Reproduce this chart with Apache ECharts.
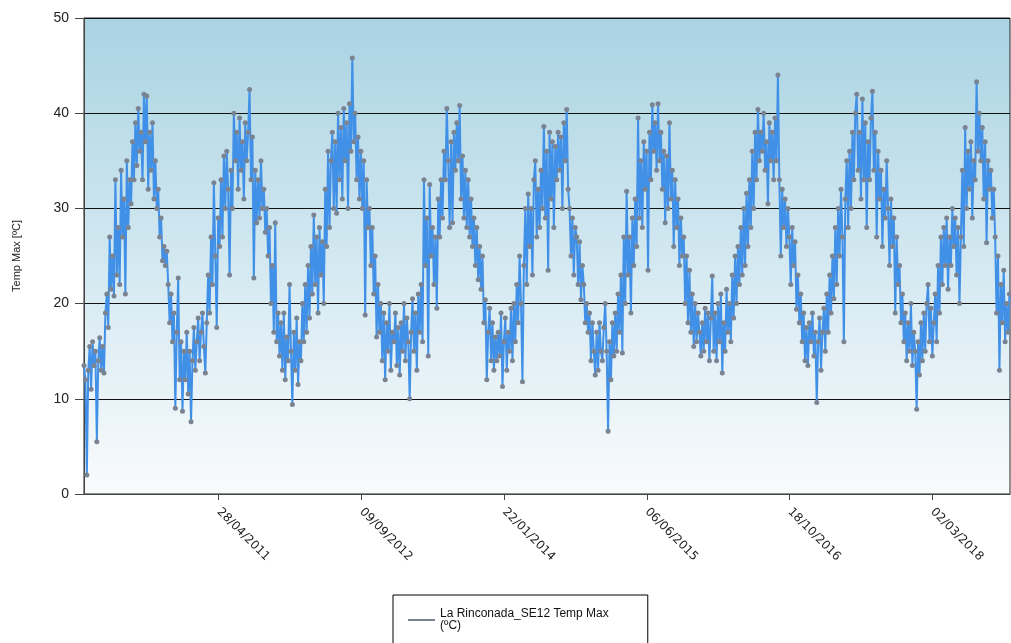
<!DOCTYPE html>
<html>
<head>
<meta charset="utf-8">
<title>Temp Max</title>
<script src="https://cdn.jsdelivr.net/npm/echarts@6/dist/echarts.min.js"></script>
<style>
    html, body { margin: 0; padding: 0; background: #fff; }
    #chart { width: 1011px; height: 643px; }
</style>
</head>
<body>
<div id="chart"></div>
<script>
// daily max temp, one reading every 5 days
var stepDays = 5;
var seriesName = 'La Rinconada_SE12 Temp Max (ºC)';
var tickDates = ['2011-04-28', '2012-09-09', '2014-01-22', '2015-06-06', '2016-10-18', '2018-03-02'];
var firstDay = '2010-01-11';
var lastDay = '2018-11-29';

var tmax2010 = [13.5, 12, 2, 13, 15.5, 11, 16, 13.5, 15, 5.5, 14, 16.4, 13, 15.5, 12.7, 19, 21, 17.5, 27, 21.5,
    25, 20.8, 33, 23, 28, 22, 34, 27, 31, 21, 35, 28, 33, 30.5, 37, 33, 39, 34.5, 40.5, 36,
    38, 33, 42, 37, 41.8, 32, 38, 34, 39, 31, 35, 30, 32, 27, 29, 24.5, 26, 24, 25.5, 22,
    18, 21, 16, 19, 9, 17, 22.7, 12, 16, 8.7, 15];
var tmax2011 = [12, 17, 10.5, 15, 7.6, 14, 17.5, 13, 16, 18.5, 14, 17, 19, 15.5, 12.7, 18, 23, 19, 27, 22,
    32.7, 25, 17.5, 29, 26, 33, 27, 35.5, 30, 36, 32, 23, 34, 30, 40, 35, 38, 32, 39.5, 34,
    37, 31, 39, 35, 38, 42.5, 33, 37.5, 22.7, 34, 28.5, 33, 29, 35, 30, 32, 27.5, 30, 25, 28,
    20, 24, 17, 28.5, 16, 19, 14.5, 18, 13, 19, 12, 16.5, 14];
var tmax2012 = [22, 15, 9.4, 17, 13, 18.5, 11.5, 16, 14, 20, 16, 22, 17, 24, 18.5, 26, 21, 29.3, 22, 27,
    19, 28, 23, 26.5, 20, 32, 26, 36, 28, 35, 38, 30, 37, 29.5, 40, 33, 38.5, 31, 40.5, 35,
    39, 30, 41, 36, 45.8, 37, 40, 33, 37.5, 31, 36, 30, 35, 18.8, 33, 28, 30, 24, 28, 21,
    25, 16.5, 22, 17, 20, 14, 19, 12, 18, 15, 20, 13, 17];
var tmax2013 = [16, 19, 13.5, 17.5, 12.5, 18, 15, 20, 14, 18.5, 16, 10, 17, 20.5, 15, 19, 13, 21, 17, 22,
    16, 33, 24, 29, 14.5, 32.5, 25, 28, 22, 27, 19.5, 31, 27, 33, 29, 36, 33, 40.5, 35, 28,
    37, 28.5, 38, 34, 39, 35, 40.8, 31, 35.5, 29, 34, 28, 33, 27, 31, 26, 29, 24, 28, 22.5,
    26, 21.5, 25, 18, 20.4, 12, 17, 19.5, 14, 18, 13, 16.5, 14];
var tmax2014 = [17, 14.5, 19, 11.3, 16, 18.5, 13, 17, 15, 19.5, 14, 20, 16, 22, 18, 25, 20, 11.8, 24, 30,
    22, 31.5, 26, 30, 23, 33, 35, 27, 32, 28, 34, 30, 38.6, 29, 36, 23.5, 38, 31, 37, 28,
    36.5, 33, 38, 34, 37.5, 30, 39, 35, 40.4, 32, 30, 25, 29, 23, 28, 27, 22, 26.5, 20.4, 24,
    22, 18, 20, 17, 19, 14, 18, 15, 12.5, 17, 13, 18, 15];
var tmax2015 = [14, 17.5, 20, 15, 6.6, 16, 12, 18, 14.5, 19, 15, 21, 17, 23, 14.8, 27, 20, 31.8, 23, 27,
    19, 29, 24, 31, 26, 39.5, 29, 35, 28, 37, 32, 36, 23.5, 38, 33, 40.9, 36, 39, 34, 41,
    35, 38, 32, 36, 28.5, 35.5, 30, 39, 31, 34, 26, 33, 28, 31, 24, 29, 25, 27, 20, 25,
    18, 23.5, 17, 21, 15.5, 20, 16, 19, 17, 14.5, 18, 15, 19.5];
var tmax2016 = [16, 19, 14, 18.5, 22.9, 15, 19, 14, 20, 16, 21, 12.7, 18, 15, 21.5, 17, 20, 16, 23, 18.5,
    25, 20, 26, 22, 28, 23, 30, 24, 31.6, 26, 33, 28, 36, 30, 38, 33, 40.4, 35, 38, 36,
    40, 34, 37, 30.5, 39, 35, 38, 33, 39.5, 35, 44, 33, 25, 32, 28, 31, 26, 30, 27, 22,
    28, 24, 26.5, 19.4, 23, 18, 21, 16, 19, 14, 17.5, 13.5, 18];
var tmax2017 = [16, 19, 14.5, 17, 9.6, 16, 18.5, 13, 17, 19.5, 15, 21, 17, 23, 19, 25, 20.5, 28, 22, 30,
    25, 32, 27, 16, 31, 35, 28, 36, 30, 38, 33, 40, 42, 34, 38, 31, 41.5, 33, 39, 28,
    37, 33, 39.5, 42.3, 34, 38, 27, 36, 31, 34, 26, 32, 29, 35, 30, 24, 31, 26, 29, 19,
    27, 22, 24, 18, 21, 16, 19, 14, 18, 15, 20, 13.5, 17];
var tmax2018 = [15, 8.9, 16, 12.5, 18, 14, 19, 15, 20, 22, 16, 19.5, 14.5, 18, 21, 16, 24, 19, 27, 22,
    28, 24, 29, 21.5, 27, 24, 30, 26, 29, 23, 28, 20, 27, 34, 26, 38.5, 30, 36, 32, 37,
    29, 35, 33, 43.3, 36, 40, 35, 38.5, 31, 37, 26.4, 35, 32, 34, 29, 32, 27, 19, 25, 13,
    22, 18, 23.5, 16, 20, 17, 21];

var chunks = [
    ['2010-01-11', tmax2010],
    ['2011-01-01', tmax2011],
    ['2012-01-01', tmax2012],
    ['2013-01-01', tmax2013],
    ['2014-01-01', tmax2014],
    ['2015-01-01', tmax2015],
    ['2016-01-01', tmax2016],
    ['2017-01-01', tmax2017],
    ['2018-01-01', tmax2018]
];

function toTime(s) {
    var p = s.split('-');
    return new Date(+p[0], +p[1] - 1, +p[2]).getTime();
}

function pad(n) {
    return n < 10 ? '0' + n : '' + n;
}

function buildData() {
    var out = [];
    chunks.forEach(function (c) {
        var t0 = new Date(toTime(c[0]));
        c[1].forEach(function (v, i) {
            var d = new Date(t0.getFullYear(), t0.getMonth(), t0.getDate() + i * stepDays);
            out.push([d.getTime(), v]);
        });
    });
    return out;
}

var chart = echarts.init(document.getElementById('chart'), null, {renderer: 'canvas'});
var tickTimes = tickDates.map(toTime);

var option = {
    animation: false,
    backgroundColor: '#ffffff',
    grid: {
        show: true,
        left: 84,
        top: 18,
        right: 1,
        bottom: 149,
        borderColor: '#222',
        borderWidth: 1,
        backgroundColor: {
            type: 'linear', x: 0, y: 0, x2: 0, y2: 1,
            colorStops: [
                {offset: 0, color: '#a9d3e2'},
                {offset: 0.55, color: '#d6eaf2'},
                {offset: 1, color: '#f9fbfc'}
            ]
        }
    },
    legend: {
        left: 393,
        top: 595,
        orient: 'vertical',
        padding: [13, 39, 30, 15],
        borderColor: '#000',
        borderWidth: 1,
        backgroundColor: '#fff',
        icon: 'rect',
        itemWidth: 27,
        itemHeight: 2,
        itemGap: 4,
        data: [seriesName],
        formatter: function () {
            return 'La Rinconada_SE12 Temp Max\n(ºC)';
        },
        textStyle: {
            fontFamily: 'Liberation Sans, Arial, sans-serif',
            fontSize: 12,
            color: '#111',
            lineHeight: 12
        }
    },
    xAxis: {
        type: 'value',
        min: toTime(firstDay),
        max: toTime(lastDay),
        axisLine: {lineStyle: {color: '#444', width: 1}},
        axisTick: {
            show: true,
            length: 6,
            lineStyle: {color: '#444'},
            customValues: tickTimes
        },
        axisLabel: {
            rotate: -45,
            margin: 16,
            fontFamily: 'DejaVu Sans, sans-serif',
            fontSize: 12,
            color: '#222',
            customValues: tickTimes,
            formatter: function (val) {
                var d = new Date(val);
                return pad(d.getDate()) + '/' + pad(d.getMonth() + 1) + '/' + d.getFullYear();
            }
        },
        splitLine: {show: false}
    },
    yAxis: {
        type: 'value',
        min: 0,
        max: 50,
        interval: 10,
        name: 'Temp Max [ºC]',
        nameLocation: 'middle',
        nameRotate: 90,
        nameGap: 62,
        nameTextStyle: {
            fontFamily: 'Liberation Sans, Arial, sans-serif',
            fontSize: 11,
            color: '#222'
        },
        axisLine: {show: true, lineStyle: {color: '#444', width: 1}},
        axisTick: {show: true, length: 9, lineStyle: {color: '#444'}},
        axisLabel: {
            margin: 15,
            fontFamily: 'Liberation Sans, Arial, sans-serif',
            fontSize: 14,
            color: '#222'
        },
        splitLine: {show: true, lineStyle: {color: '#111', width: 1}}
    },
    series: [{
        name: seriesName,
        type: 'line',
        data: buildData(),
        showAllSymbol: true,
        symbol: 'circle',
        symbolSize: 5,
        color: '#4190e8',
        lineStyle: {color: '#4190e8', width: 2},
        itemStyle: {color: '#7a8391'},
        emphasis: {disabled: true}
    }]
};

chart.setOption(option);
</script>
</body>
</html>
